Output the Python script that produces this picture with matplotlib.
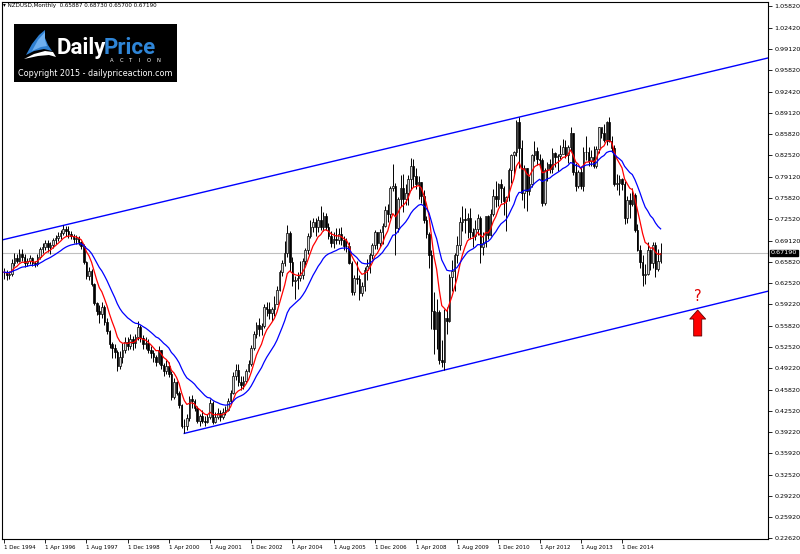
import matplotlib
matplotlib.use('Agg')
import matplotlib.pyplot as plt
from matplotlib.patches import Polygon, Rectangle

# NZDUSD monthly bars, Dec 1994 .. Mar 2016 (open = previous close)
first_open = 0.6420
close = [
    0.6420,
    0.6370, 0.6390, 0.6560, 0.6640, 0.6600, 0.6700, 0.6660, 0.6560, 0.6590, 0.6640, 0.6560, 0.6540,
    0.6660, 0.6780, 0.6810, 0.6870, 0.6820, 0.6850, 0.6920, 0.6960, 0.6990, 0.7030, 0.7100, 0.7060,
    0.7020, 0.6990, 0.6940, 0.6950, 0.6890, 0.6830, 0.6580, 0.6360, 0.6440, 0.6230, 0.5940, 0.5820,
    0.5760, 0.5880, 0.5640, 0.5500, 0.5300, 0.5230, 0.5170, 0.4950, 0.5090, 0.5210, 0.5330, 0.5270,
    0.5380, 0.5310, 0.5400, 0.5560, 0.5390, 0.5300, 0.5320, 0.5210, 0.5150, 0.5090, 0.5020, 0.5200,
    0.4970, 0.4880, 0.4950, 0.4830, 0.4470, 0.4700, 0.4530, 0.4340, 0.4010, 0.4010, 0.4140, 0.4430,
    0.4400, 0.4300, 0.4100, 0.4170, 0.4100, 0.4080, 0.4150, 0.4380, 0.4080, 0.4160, 0.4220, 0.4160,
    0.4230, 0.4270, 0.4400, 0.4530, 0.4790, 0.4890, 0.4700, 0.4660, 0.4720, 0.4870, 0.4990, 0.5240,
    0.5460, 0.5590, 0.5530, 0.5580, 0.5870, 0.5840, 0.5780, 0.5840, 0.5920, 0.6140, 0.6420, 0.6560,
    0.6720, 0.7030, 0.6580, 0.6280, 0.6300, 0.6330, 0.6380, 0.6600, 0.6760, 0.6990, 0.7130, 0.7200,
    0.7130, 0.7240, 0.7120, 0.7300, 0.7120, 0.6980, 0.6880, 0.6940, 0.6920, 0.7010, 0.6920, 0.6830,
    0.6830, 0.6570, 0.6110, 0.6330, 0.6310, 0.6100, 0.6200, 0.6450, 0.6520, 0.6690, 0.6840, 0.7040,
    0.6880, 0.7050, 0.7140, 0.7390, 0.7330, 0.7730, 0.7770, 0.7110, 0.7560, 0.7730, 0.7570, 0.7660,
    0.7870, 0.8080, 0.7920, 0.7800, 0.7830, 0.7610, 0.7240, 0.7020, 0.6680, 0.5820, 0.5530, 0.5800,
    0.5040, 0.5010, 0.5710, 0.5650, 0.6350, 0.6440, 0.6680, 0.6840, 0.7210, 0.7250, 0.7240, 0.7260,
    0.7050, 0.6980, 0.7100, 0.7260, 0.6810, 0.6880, 0.7290, 0.7000, 0.7330, 0.7610, 0.7560, 0.7800,
    0.7730, 0.7530, 0.7590, 0.8020, 0.8250, 0.8290, 0.8770, 0.8360, 0.7650, 0.8040, 0.7690, 0.7790,
    0.8250, 0.8320, 0.8180, 0.8170, 0.7500, 0.8020, 0.8110, 0.8030, 0.8280, 0.8220, 0.8230, 0.8270,
    0.8380, 0.8250, 0.8370, 0.8590, 0.7990, 0.7760, 0.7980, 0.7770, 0.8300, 0.8300, 0.8150, 0.8220,
    0.8080, 0.8350, 0.8680, 0.8600, 0.8490, 0.8760, 0.8470, 0.8360, 0.7790, 0.7810, 0.7870, 0.7800,
    0.7270, 0.7540, 0.7490, 0.7630, 0.7080, 0.6770, 0.6580, 0.6370, 0.6390, 0.6760, 0.6570, 0.6840,
    0.6470, 0.65887, 0.67190,
]
high = [
    0.6480,
    0.6450, 0.6440, 0.6620, 0.6720, 0.6710, 0.6780, 0.6780, 0.6700, 0.6640, 0.6680, 0.6660, 0.6600,
    0.6700, 0.6820, 0.6880, 0.6920, 0.6920, 0.6890, 0.6960, 0.7000, 0.7040, 0.7080, 0.7150, 0.7140,
    0.7140, 0.7060, 0.7010, 0.7000, 0.6980, 0.6910, 0.6860, 0.6600, 0.6500, 0.6470, 0.6250, 0.5960,
    0.5900, 0.5960, 0.5900, 0.5700, 0.5520, 0.5330, 0.5300, 0.5200, 0.5180, 0.5320, 0.5400, 0.5400,
    0.5460, 0.5420, 0.5460, 0.5650, 0.5600, 0.5440, 0.5400, 0.5380, 0.5260, 0.5200, 0.5130, 0.5270,
    0.5200, 0.5000, 0.5040, 0.5020, 0.4870, 0.4760, 0.4720, 0.4560, 0.4360, 0.4120, 0.4210, 0.4480,
    0.4500, 0.4430, 0.4330, 0.4200, 0.4260, 0.4170, 0.4210, 0.4440, 0.4400, 0.4230, 0.4290, 0.4260,
    0.4290, 0.4330, 0.4450, 0.4580, 0.4860, 0.4990, 0.4980, 0.4790, 0.4800, 0.4900, 0.5050, 0.5280,
    0.5500, 0.5640, 0.5710, 0.5620, 0.5920, 0.5960, 0.5950, 0.5880, 0.6040, 0.6200, 0.6460, 0.6610,
    0.6900, 0.7150, 0.7060, 0.6650, 0.6360, 0.6420, 0.6600, 0.6640, 0.6790, 0.7030, 0.7230, 0.7270,
    0.7270, 0.7290, 0.7460, 0.7360, 0.7340, 0.7180, 0.7070, 0.7040, 0.7110, 0.7110, 0.7120, 0.6990,
    0.6960, 0.6890, 0.6600, 0.6380, 0.6590, 0.6370, 0.6260, 0.6500, 0.6620, 0.6720, 0.6880, 0.7080,
    0.7050, 0.7100, 0.7190, 0.7460, 0.7480, 0.7760, 0.8110, 0.7820, 0.7600, 0.7940, 0.7950, 0.7790,
    0.7930, 0.8210, 0.8190, 0.8040, 0.7920, 0.7830, 0.7710, 0.7290, 0.7050, 0.6760, 0.6110, 0.6000,
    0.5830, 0.5360, 0.5840, 0.5880, 0.6390, 0.6610, 0.6720, 0.6990, 0.7280, 0.7460, 0.7420, 0.7340,
    0.7420, 0.7110, 0.7230, 0.7330, 0.7300, 0.7050, 0.7300, 0.7320, 0.7400, 0.7720, 0.7840, 0.7810,
    0.7880, 0.7770, 0.7610, 0.8050, 0.8270, 0.8310, 0.8800, 0.8842, 0.8490, 0.8100, 0.8040, 0.7920,
    0.8270, 0.8470, 0.8380, 0.8270, 0.8200, 0.8050, 0.8140, 0.8180, 0.8360, 0.8290, 0.8260, 0.8400,
    0.8500, 0.8490, 0.8410, 0.8680, 0.8600, 0.8120, 0.8020, 0.8080, 0.8380, 0.8540, 0.8380, 0.8330,
    0.8390, 0.8390, 0.8690, 0.8670, 0.8740, 0.8780, 0.8840, 0.8550, 0.8400, 0.7960, 0.7930, 0.7890,
    0.7850, 0.7610, 0.7650, 0.7740, 0.7650, 0.7170, 0.6850, 0.6690, 0.6540, 0.6890, 0.6780, 0.6890,
    0.6890, 0.6780, 0.68730,
]
low = [
    0.6320,
    0.6300, 0.6310, 0.6360, 0.6520, 0.6560, 0.6580, 0.6600, 0.6500, 0.6520, 0.6540, 0.6520, 0.6500,
    0.6520, 0.6620, 0.6720, 0.6760, 0.6740, 0.6700, 0.6800, 0.6860, 0.6900, 0.6930, 0.7000, 0.6980,
    0.6960, 0.6930, 0.6880, 0.6860, 0.6850, 0.6780, 0.6550, 0.6320, 0.6300, 0.6200, 0.5900, 0.5750,
    0.5620, 0.5700, 0.5600, 0.5460, 0.5240, 0.5080, 0.5080, 0.4870, 0.4910, 0.5000, 0.5160, 0.5200,
    0.5220, 0.5200, 0.5240, 0.5360, 0.5330, 0.5220, 0.5220, 0.5160, 0.5080, 0.5010, 0.4960, 0.4990,
    0.4900, 0.4800, 0.4830, 0.4780, 0.4420, 0.4440, 0.4500, 0.4300, 0.3990, 0.3900, 0.3960, 0.4100,
    0.4290, 0.4250, 0.4060, 0.4010, 0.4070, 0.4020, 0.4060, 0.4130, 0.4040, 0.4070, 0.4130, 0.4100,
    0.4120, 0.4180, 0.4250, 0.4380, 0.4510, 0.4740, 0.4640, 0.4580, 0.4590, 0.4680, 0.4860, 0.4950,
    0.5210, 0.5390, 0.5420, 0.5440, 0.5550, 0.5740, 0.5680, 0.5660, 0.5740, 0.5920, 0.6120, 0.6360,
    0.6520, 0.6650, 0.6440, 0.6200, 0.6000, 0.6150, 0.6280, 0.6320, 0.6530, 0.6700, 0.6960, 0.7050,
    0.6980, 0.7040, 0.7080, 0.7070, 0.7080, 0.6930, 0.6820, 0.6800, 0.6860, 0.6860, 0.6850, 0.6760,
    0.6730, 0.6540, 0.6060, 0.6060, 0.6230, 0.5990, 0.6040, 0.6130, 0.6290, 0.6410, 0.6630, 0.6780,
    0.6780, 0.6820, 0.6860, 0.7130, 0.7210, 0.7270, 0.7680, 0.6690, 0.7050, 0.7460, 0.7360, 0.7470,
    0.7470, 0.7700, 0.7750, 0.7720, 0.7560, 0.7500, 0.7180, 0.6960, 0.6480, 0.5530, 0.5140, 0.5220,
    0.4980, 0.4930, 0.4890, 0.5460, 0.5640, 0.6130, 0.6130, 0.6560, 0.6770, 0.7070, 0.7030, 0.6960,
    0.6940, 0.6810, 0.6920, 0.7000, 0.6560, 0.6690, 0.6820, 0.6940, 0.6990, 0.7290, 0.7440, 0.7460,
    0.7500, 0.7310, 0.7060, 0.7530, 0.7810, 0.7960, 0.8240, 0.8040, 0.7550, 0.7420, 0.7370, 0.7620,
    0.7750, 0.8160, 0.8090, 0.8060, 0.7450, 0.7470, 0.7840, 0.7970, 0.7970, 0.8060, 0.8000, 0.8180,
    0.8280, 0.8200, 0.8130, 0.8310, 0.7930, 0.7680, 0.7740, 0.7720, 0.7690, 0.8170, 0.8080, 0.8080,
    0.8050, 0.8050, 0.8280, 0.8520, 0.8460, 0.8400, 0.8460, 0.8300, 0.7770, 0.7710, 0.7620, 0.7700,
    0.7170, 0.7180, 0.7270, 0.7460, 0.7050, 0.6750, 0.6480, 0.6200, 0.6230, 0.6370, 0.6450, 0.6490,
    0.6350, 0.6430, 0.65700,
]
opens = [first_open] + close[:-1]

x_labels = ['1 Dec 1994', '1 Apr 1996', '1 Aug 1997', '1 Dec 1998', '1 Apr 2000', '1 Aug 2001',
            '1 Dec 2002', '1 Apr 2004', '1 Aug 2005', '1 Dec 2006', '1 Apr 2008', '1 Aug 2009',
            '1 Dec 2010', '1 Apr 2012', '1 Aug 2013', '1 Dec 2014']
y_labels = ['1.05820', '1.02420', '0.99120', '0.95820', '0.92420', '0.89120', '0.85820',
            '0.82520', '0.79120', '0.75820', '0.72520', '0.69120', '0.65820', '0.62520',
            '0.59220', '0.55820', '0.52520', '0.49220', '0.45820', '0.42520', '0.39220',
            '0.35920', '0.32520', '0.29220', '0.25920', '0.22620']

# channel anchors (bar index) : 1996 / 2011 highs and 2000 / 2009 lows
upper_pts = (23, 200)
lower_pts = (70, 171)
arrow_bar, arrow_tip, arrow_base, question_y = 269.4, 0.5828, 0.5422, 0.6032


def ema(vals, n):
    k = 2.0 / (n + 1)
    out = [vals[0]]
    for v in vals[1:]:
        out.append(out[-1] + k * (v - out[-1]))
    return out


n = len(close)
idx = list(range(n))

fig = plt.figure(figsize=(8, 5.54), dpi=100)
ax = fig.add_axes([2 / 800, 15 / 554, 766 / 800, 537 / 554])
ax.set_xlim(-0.78, 296.7)
ax.set_ylim(0.2250, 1.0641)

# current price line
ax.axhline(close[-1], color='#c0c0c0', lw=0.8, zorder=1)

# channel lines
(u0, u1), (l0, l1) = upper_pts, lower_pts
ax.axline((u0, high[u0]), (u1, high[u1]), color='#0000ff', lw=1.0, zorder=2)
slope = (low[l1] - low[l0]) / (l1 - l0)
ax.plot([l0, 297], [low[l0], low[l0] + slope * (297 - l0)], color='#0000ff', lw=1.0, zorder=2)

# candles
ax.vlines(idx, low, high, color='black', lw=0.7, zorder=3)
bull = [i for i in idx if close[i] >= opens[i]]
bear = [i for i in idx if close[i] < opens[i]]
ax.bar(bull, [close[i] - opens[i] for i in bull], bottom=[opens[i] for i in bull],
       width=0.62, color='#d8d8d8', edgecolor='black', linewidth=0.5, zorder=4)
ax.bar(bear, [opens[i] - close[i] for i in bear], bottom=[close[i] for i in bear],
       width=0.62, color='black', edgecolor='black', linewidth=0.5, zorder=4)

# 8 / 21 EMA
ax.plot(idx, ema(close, 8), color='#ff0000', lw=0.9, zorder=5)
ax.plot(idx, ema(close, 21), color='#0000ff', lw=0.9, zorder=5)

# red arrow + question mark
ax.annotate('', xy=(arrow_bar, arrow_tip), xytext=(arrow_bar, arrow_base),
            arrowprops=dict(arrowstyle='simple,head_length=0.65,head_width=1.15,tail_width=0.58',
                            fc='#ff0000', ec='#600000', lw=0.6, mutation_scale=10,
                            shrinkA=0, shrinkB=0), zorder=6)
ax.text(arrow_bar, question_y, '?', color='#e00000', fontsize=10.5, ha='center', va='center',
        zorder=6)

# axes / ticks
ax.yaxis.tick_right()
ax.set_yticks([float(v) for v in y_labels], y_labels)
months = {'Dec': 12, 'Apr': 4, 'Aug': 8}
x_pos = [(int(s.split()[2]) - 1994) * 12 + months[s.split()[1]] - 12 for s in x_labels]
ax.set_xticks(x_pos, x_labels)
for lab in ax.get_xticklabels():
    lab.set_horizontalalignment('left')
ax.tick_params(axis='both', length=3, width=0.6, pad=1.5, labelsize=4.6, colors='black')
ax.tick_params(axis='x', labelsize=4.0)
for s in ax.spines.values():
    s.set_linewidth(0.8)

ax.text(1.004, close[-1], f'{close[-1]:.5f}', transform=ax.get_yaxis_transform(),
        ha='left', va='center', color='white', fontsize=4.6,
        bbox=dict(boxstyle='square,pad=0.15', fc='black', ec='black'))

fig.text(3 / 800, 1 - 6 / 554,
         f'\u25be NZDUSD,Monthly  {opens[-1]:.5f} {high[-1]:.5f} {low[-1]:.5f} {close[-1]:.5f}',
         fontsize=4.1, va='center', ha='left')

# logo block
lax = fig.add_axes([14 / 800, 1 - 82 / 554, 163 / 800, 58 / 554])
lax.set_xlim(0, 163)
lax.set_ylim(58, 0)
lax.axis('off')
lax.add_patch(Rectangle((0, 0), 163, 58, fc='black', ec='none'))
lax.add_patch(Polygon([(12, 31), (18, 20), (25, 11), (31, 6), (31, 14), (34, 21), (38, 27),
                       (30, 25), (20, 27)], closed=True, fc='#2f7fd0', ec='none'))
lax.add_patch(Polygon([(18, 27), (24, 16), (31, 8), (31, 16), (33, 22), (27, 23)],
                      closed=True, fc='#6fb0f0', ec='none'))
lax.add_patch(Polygon([(10, 35), (20, 30), (31, 27), (39, 28), (42, 33), (35, 31), (24, 32)],
                      closed=True, fc='white', ec='none'))
lax.text(43, 30, 'Daily', color='white', fontsize=16, fontweight='bold', family='Roboto',
         va='baseline', ha='left')
lax.text(90, 30, 'Price', color='#2f86d8', fontsize=16, fontweight='bold', family='Roboto',
         va='baseline', ha='left')
for k, ch in enumerate('ACTION'):
    lax.text(98 + k * 9.2, 36.3, ch, color='white', fontsize=3.8, ha='center', va='center')
lax.text(81.5, 49.5, 'Copyright 2015 - dailypriceaction.com', color='white', fontsize=5.8,
         ha='center', va='center')

fig.savefig('out.png', dpi=100)
